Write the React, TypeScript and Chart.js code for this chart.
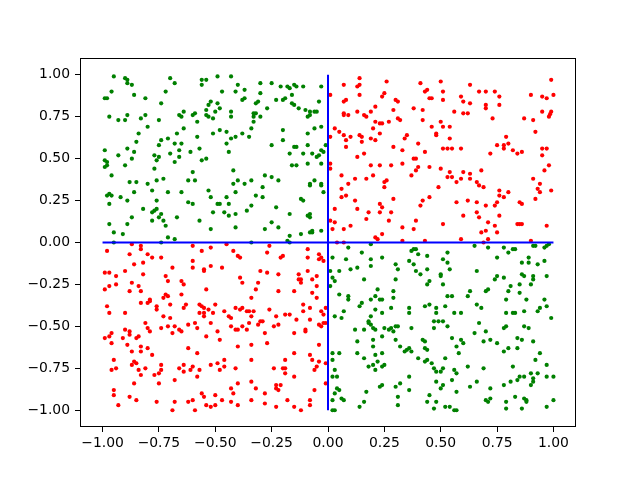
import React, { useEffect, useRef } from "react";
import { Chart, registerables } from "chart.js";

Chart.register(...registerables);

// Points with x*y > 0 (red) and x*y < 0 (green)
const redPoints: [number, number][] = [
  [0.14,0.98],[0.26,0.96],[0.07,0.94],[0.14,0.94],[0.13,0.93],[0.14,0.88],[0.01,0.88],[0.41,0.95],[0.50,0.96],[0.44,0.91],[0.43,0.90],[0.51,0.90],[0.25,0.89],[0.24,0.87],[0.45,0.86],[0.46,0.86],[0.51,0.85],[0.07,0.84],[0.08,0.85],[0.30,0.85],[0.31,0.84],[0.07,0.77],[0.07,0.76],[0.09,0.76],[0.13,0.78],[0.16,0.76],[0.17,0.75],[0.19,0.78],[0.21,0.81],[0.29,0.79],[0.38,0.80],[0.42,0.79],[0.21,0.72],[0.23,0.71],[0.24,0.71],[0.27,0.72],[0.31,0.74],[0.32,0.73],[0.42,0.73],[0.50,0.72],[0.51,0.69],[0.46,0.69],[0.03,0.68],[0.05,0.66],[0.20,0.68],[0.23,0.65],[0.48,0.65],[0.48,0.64],[0.07,0.64],[0.10,0.63],[0.14,0.64],[0.15,0.63],[0.01,0.63],[0.08,0.61],[0.15,0.60],[0.19,0.62],[0.21,0.61],[0.34,0.62],[0.35,0.64],[0.40,0.59],[0.08,0.57],[0.29,0.57],[0.51,0.56],[0.33,0.55],[0.43,0.54],[0.16,0.53],[0.13,0.51],[0.38,0.50],[0.39,0.50],[0.01,0.47],[0.01,0.44],[0.19,0.46],[0.23,0.46],[0.28,0.46],[0.33,0.47],[0.40,0.45],[0.39,0.43],[0.45,0.45],[0.50,0.44],[0.06,0.40],[0.12,0.38],[0.17,0.38],[0.20,0.40],[0.37,0.40],[0.26,0.37],[0.25,0.36],[0.09,0.35],
  [0.99,0.97],[0.63,0.94],[0.67,0.90],[0.70,0.90],[0.74,0.90],[0.59,0.87],[0.60,0.84],[0.63,0.83],[0.76,0.87],[0.76,0.82],[0.70,0.82],[0.70,0.80],[0.90,0.88],[0.95,0.87],[0.97,0.86],[1.00,0.88],[0.56,0.78],[0.60,0.77],[0.62,0.77],[0.73,0.74],[0.87,0.74],[0.91,0.73],[0.95,0.78],[0.98,0.75],[0.985,0.765],[0.99,0.78],[0.54,0.69],[0.92,0.66],[0.79,0.63],[0.54,0.62],[0.75,0.58],[0.78,0.58],[0.78,0.56],[0.80,0.59],[0.82,0.55],[0.84,0.53],[0.86,0.54],[0.53,0.56],[0.55,0.56],[0.59,0.56],[0.95,0.56],[0.97,0.56],[0.95,0.52],[0.72,0.53],[0.98,0.46],[0.96,0.43],[0.68,0.43],[0.60,0.42],[0.63,0.41],[0.63,0.38],[0.59,0.38],[0.54,0.42],[0.53,0.39],[0.55,0.39],[0.57,0.36],[0.66,0.36],[0.91,0.38],[0.94,0.35],
  [-0.87,-0.01],[-0.83,-0.02],[-0.83,-0.04],[-0.60,-0.02],[-0.52,-0.03],[-0.98,-0.05],[-0.88,-0.07],[-0.80,-0.07],[-0.78,-0.09],[-0.74,-0.09],[-0.56,-0.05],[-0.86,-0.13],[-0.82,-0.12],[-0.60,-0.11],[-0.69,-0.15],[-0.60,-0.15],[-0.52,-0.14],[-0.90,-0.17],[-0.82,-0.19],[-0.99,-0.18],[-0.97,-0.18],[-0.94,-0.20],[-0.72,-0.20],[-0.55,-0.16],[-0.55,-0.17],[-0.94,-0.25],[-0.97,-0.26],[-0.87,-0.24],[-0.84,-0.26],[-0.71,-0.23],[-0.65,-0.23],[-0.64,-0.25],[-0.99,-0.28],[-0.88,-0.29],[-0.83,-0.29],[-0.54,-0.28],[-0.72,-0.31],[-0.71,-0.32],[-0.73,-0.33],[-0.65,-0.31],[-0.79,-0.34],
  [-0.45,-0.01],[-0.26,-0.02],[-0.42,-0.05],[-0.40,-0.08],[-0.39,-0.09],[-0.27,-0.06],[-0.20,-0.08],[-0.21,-0.09],[-0.09,-0.04],[-0.09,-0.09],[-0.04,-0.07],[-0.03,-0.09],[-0.04,-0.10],[-0.02,-0.11],[-0.47,-0.15],[-0.30,-0.17],[-0.27,-0.18],[-0.22,-0.19],[-0.13,-0.19],[-0.09,-0.17],[-0.05,-0.20],[-0.13,-0.22],[-0.12,-0.22],[-0.12,-0.24],[-0.07,-0.22],[-0.38,-0.24],[-0.31,-0.24],[-0.39,-0.21],[-0.32,-0.28],[-0.22,-0.29],[-0.15,-0.29],[-0.07,-0.30],[-0.05,-0.26],[-0.34,-0.33],[-0.05,-0.33],
  [0.06,0.32],[0.06,0.27],[0.08,0.28],[0.12,0.25],[0.25,0.33],[0.03,0.20],[0.13,0.20],[0.23,0.23],[0.24,0.21],[0.29,0.26],[0.42,0.25],[0.45,0.27],[0.49,0.33],[0.41,0.22],[0.18,0.18],[0.23,0.18],[0.28,0.18],[0.17,0.14],[0.01,0.13],[0.03,0.12],[0.10,0.10],[0.02,0.08],[0.07,0.08],[0.27,0.13],[0.33,0.09],[0.38,0.08],[0.39,0.13],[0.51,0.11],[0.21,0.03],[0.22,0.02],[0.24,0.05],[0.04,0.00],[0.07,0.00],[0.33,0.01],[0.43,0.01],
  [0.67,0.34],[0.69,0.33],[0.76,0.31],[0.76,0.28],[0.78,0.27],[0.80,0.30],[0.93,0.32],[0.94,0.30],[0.99,0.31],[0.57,0.24],[0.62,0.25],[0.66,0.24],[0.70,0.22],[0.74,0.22],[0.75,0.24],[0.85,0.24],[0.86,0.23],[0.92,0.26],[0.60,0.16],[0.66,0.18],[0.67,0.15],[0.76,0.16],[0.71,0.12],[0.74,0.10],[0.70,0.07],[0.68,0.06],[0.75,0.06],[0.84,0.11],[0.85,0.11],[0.86,0.11],[0.97,0.10],[0.71,0.02],[0.59,0.02],[0.69,0.00],[0.90,0.01],
  [-0.98,-0.38],[-0.97,-0.42],[-0.83,-0.36],[-0.80,-0.36],[-0.79,-0.35],[-0.76,-0.38],[-0.76,-0.40],[-0.70,-0.37],[-0.90,-0.42],[-0.63,-0.37],[-0.64,-0.39],[-0.57,-0.37],[-0.56,-0.38],[-0.55,-0.39],[-0.53,-0.40],[-0.57,-0.42],[-0.55,-0.42],[-0.55,-0.44],[-0.51,-0.42],[-0.73,-0.44],[-0.70,-0.45],[-0.81,-0.48],[-0.80,-0.51],[-0.79,-0.53],[-0.74,-0.51],[-0.71,-0.50],[-0.68,-0.50],[-0.66,-0.52],[-0.65,-0.53],[-0.69,-0.54],[-0.62,-0.49],[-0.59,-0.48],[-0.58,-0.51],[-0.52,-0.48],[-0.54,-0.56],[-0.96,-0.54],[-0.97,-0.56],[-0.99,-0.57],[-0.96,-0.60],[-0.90,-0.52],[-0.88,-0.53],[-0.88,-0.55],[-0.91,-0.57],[-0.85,-0.57],[-0.84,-0.56],[-0.89,-0.61],[-0.87,-0.65],[-0.83,-0.62],[-0.83,-0.65],[-0.80,-0.63],[-0.78,-0.67],[-0.62,-0.63],[-0.58,-0.66],[-0.95,-0.70],[-0.96,-0.76],[-0.94,-0.75],[-0.87,-0.73],[-0.86,-0.71],[-0.85,-0.72],[-0.84,-0.76],[-0.83,-0.79],[-0.81,-0.75],[-0.77,-0.79],[-0.74,-0.73],[-0.74,-0.76],[-0.75,-0.78],[-0.66,-0.75],[-0.64,-0.73],[-0.64,-0.77],[-0.61,-0.76],[-0.60,-0.74],[-0.57,-0.76],[-0.58,-0.80],[-0.52,-0.73],[-0.68,-0.82],[-0.86,-0.84],[-0.75,-0.84],[-0.95,-0.88],[-0.95,-0.91],[-0.88,-0.92],[-0.85,-0.94],[-0.93,-0.97],[-0.76,-0.95],[-0.68,-0.95],[-0.69,-1.00],[-0.62,-0.95],[-0.60,-0.94],[-0.56,-0.90],[-0.55,-0.92],[-0.54,-0.97],[-0.52,-0.98],[-0.59,-1.00],
  [-0.50,-0.37],[-0.46,-0.41],[-0.44,-0.44],[-0.43,-0.45],[-0.41,-0.39],[-0.39,-0.40],[-0.38,-0.39],[-0.36,-0.41],[-0.35,-0.41],[-0.34,-0.44],[-0.33,-0.41],[-0.26,-0.40],[-0.23,-0.44],[-0.19,-0.43],[-0.17,-0.43],[-0.14,-0.46],[-0.11,-0.37],[-0.11,-0.41],[-0.08,-0.39],[-0.03,-0.41],[-0.02,-0.43],[-0.01,-0.39],[-0.43,-0.50],[-0.41,-0.52],[-0.40,-0.52],[-0.38,-0.50],[-0.36,-0.52],[-0.35,-0.48],[-0.31,-0.49],[-0.30,-0.47],[-0.29,-0.47],[-0.28,-0.54],[-0.24,-0.50],[-0.22,-0.49],[-0.15,-0.54],[-0.10,-0.52],[-0.10,-0.53],[-0.08,-0.46],[-0.04,-0.49],[-0.03,-0.50],[-0.02,-0.48],[-0.01,-0.48],[-0.49,-0.53],[-0.48,-0.58],[-0.40,-0.62],[-0.34,-0.61],[-0.27,-0.60],[-0.15,-0.66],[-0.08,-0.67],[-0.04,-0.61],[-0.49,-0.72],[-0.46,-0.70],[-0.46,-0.74],[-0.48,-0.76],[-0.41,-0.75],[-0.34,-0.70],[-0.24,-0.75],[-0.20,-0.75],[-0.19,-0.75],[-0.19,-0.78],[-0.19,-0.70],[-0.15,-0.80],[-0.07,-0.70],[-0.05,-0.74],[-0.06,-0.76],[-0.04,-0.71],[-0.01,-0.72],[-0.40,-0.84],[-0.43,-0.87],[-0.42,-0.90],[-0.34,-0.83],[-0.32,-0.87],[-0.23,-0.85],[-0.21,-0.85],[-0.23,-0.87],[-0.22,-0.88],[-0.06,-0.88],[-0.01,-0.84],[-0.50,-0.91],[-0.47,-0.94],[-0.43,-0.95],[-0.40,-0.97],[-0.34,-0.94],[-0.28,-0.90],[-0.28,-0.96],[-0.18,-0.94],[-0.08,-0.94],[-0.08,-0.97],[-0.50,-0.97],[-0.23,-0.98],[-0.15,-0.98],[-0.12,-1.00],
];

const greenPoints: [number, number][] = [
  [-0.95,0.99],[-0.90,0.98],[-0.89,0.97],[-0.89,0.95],[-0.87,0.94],[-0.70,0.98],[-0.68,0.95],[-0.56,0.97],[-0.54,0.97],[-0.56,0.94],[-0.96,0.90],[-0.72,0.90],[-0.99,0.86],[-0.98,0.86],[-0.86,0.88],[-0.81,0.86],[-0.74,0.83],[-0.52,0.84],[-0.53,0.82],[-0.54,0.79],[-0.97,0.75],[-0.93,0.73],[-0.90,0.73],[-0.89,0.76],[-0.83,0.74],[-0.81,0.76],[-0.75,0.73],[-0.66,0.76],[-0.65,0.75],[-0.64,0.78],[-0.60,0.76],[-0.59,0.77],[-0.54,0.76],[-0.53,0.75],[-0.51,0.74],[-0.58,0.72],[-0.80,0.69],[-0.64,0.68],[-0.84,0.65],[-0.67,0.65],[-0.74,0.61],[-0.71,0.62],[-0.58,0.63],[-0.51,0.65],[-0.85,0.60],[-0.75,0.58],[-0.68,0.59],[-0.65,0.59],[-0.99,0.55],[-0.89,0.56],[-0.86,0.54],[-0.66,0.55],[-0.57,0.56],[-0.93,0.52],[-0.87,0.50],[-0.77,0.52],[-0.75,0.51],[-0.70,0.53],[-0.66,0.51],[-0.61,0.54],[-0.99,0.49],[-0.98,0.48],[-0.76,0.49],[-0.68,0.48],[-0.56,0.49],[-0.54,0.50],[-0.99,0.45],[-0.98,0.46],[-0.90,0.46],[-0.77,0.44],[-0.96,0.40],[-0.60,0.42],[-0.73,0.38],[-0.88,0.36],[-0.85,0.36],[-0.76,0.37],[-0.80,0.35],[-0.62,0.37],[-0.59,0.37],
  [-0.49,0.99],[-0.43,0.99],[-0.40,0.94],[-0.41,0.90],[-0.37,0.91],[-0.47,0.90],[-0.30,0.95],[-0.25,0.95],[-0.30,0.89],[-0.21,0.93],[-0.18,0.93],[-0.17,0.92],[-0.15,0.94],[-0.14,0.93],[-0.11,0.93],[-0.03,0.93],[-0.16,0.88],[-0.37,0.86],[-0.38,0.85],[-0.31,0.84],[-0.32,0.83],[-0.23,0.85],[-0.20,0.85],[-0.19,0.86],[-0.04,0.84],[-0.49,0.83],[-0.48,0.80],[-0.50,0.78],[-0.43,0.78],[-0.43,0.75],[-0.33,0.77],[-0.32,0.77],[-0.33,0.75],[-0.30,0.75],[-0.27,0.80],[-0.16,0.83],[-0.15,0.82],[-0.13,0.80],[-0.10,0.79],[-0.08,0.78],[-0.06,0.78],[-0.05,0.78],[-0.08,0.76],[-0.09,0.75],[-0.33,0.72],[-0.34,0.68],[-0.48,0.67],[-0.45,0.66],[-0.41,0.63],[-0.38,0.65],[-0.35,0.63],[-0.43,0.62],[-0.45,0.59],[-0.20,0.67],[-0.20,0.61],[-0.06,0.68],[-0.03,0.69],[-0.09,0.65],[-0.25,0.58],[-0.15,0.57],[-0.14,0.57],[-0.09,0.58],[-0.01,0.58],[-0.44,0.54],[-0.17,0.53],[-0.11,0.53],[-0.07,0.53],[-0.03,0.55],[-0.02,0.54],[-0.04,0.52],[-0.05,0.51],[-0.16,0.46],[-0.14,0.46],[-0.09,0.47],[-0.03,0.47],[-0.42,0.43],[-0.28,0.40],[-0.25,0.39],[-0.22,0.37],[-0.40,0.37],[-0.34,0.37],[-0.06,0.37],[-0.42,0.35],[-0.37,0.35],[-0.08,0.35],[-0.03,0.35],
  [-0.97,0.29],[-0.98,0.28],[-0.96,0.28],[-0.92,0.27],[-0.89,0.25],[-0.86,0.30],[-0.78,0.31],[-0.71,0.30],[-0.65,0.30],[-0.76,0.25],[-0.62,0.24],[-0.60,0.23],[-0.53,0.31],[-0.52,0.27],[-0.97,0.23],[-0.82,0.20],[-0.78,0.18],[-0.77,0.19],[-0.76,0.20],[-0.74,0.17],[-0.75,0.15],[-0.78,0.13],[-0.73,0.13],[-0.72,0.10],[-0.87,0.15],[-0.89,0.11],[-0.97,0.11],[-0.95,0.06],[-0.91,0.05],[-0.67,0.15],[-0.57,0.13],[-0.51,0.18],[-0.52,0.08],[-0.71,0.03],[-0.68,0.02],[-0.95,0.00],[-0.74,0.00],
  [-0.49,0.23],[-0.48,0.23],[-0.45,0.27],[-0.44,0.23],[-0.41,0.30],[-0.29,0.33],[-0.32,0.28],[-0.29,0.27],[-0.46,0.18],[-0.44,0.16],[-0.41,0.17],[-0.36,0.19],[-0.34,0.22],[-0.23,0.21],[-0.17,0.17],[-0.12,0.26],[-0.11,0.25],[-0.08,0.34],[-0.03,0.34],[-0.02,0.30],[-0.09,0.16],[-0.08,0.15],[-0.08,0.17],[-0.25,0.12],[-0.22,0.09],[-0.28,0.08],[-0.41,0.09],[-0.17,0.04],[-0.12,0.05],[-0.08,0.06],[-0.07,0.07],[-0.07,0.06],[-0.03,0.07],[-0.18,0.01],[-0.17,0.00],[-0.34,0.00],
  [0.09,-0.03],[0.19,-0.01],[0.02,-0.09],[0.08,-0.10],[0.15,-0.06],[0.19,-0.10],[0.24,-0.09],[0.19,-0.14],[0.37,-0.05],[0.38,-0.04],[0.39,-0.04],[0.40,-0.07],[0.44,-0.08],[0.51,-0.10],[0.36,-0.11],[0.38,-0.13],[0.30,-0.13],[0.31,-0.16],[0.01,-0.17],[0.05,-0.17],[0.10,-0.16],[0.13,-0.15],[0.44,-0.16],[0.39,-0.17],[0.41,-0.19],[0.50,-0.19],[0.50,-0.20],[0.02,-0.21],[0.03,-0.23],[0.16,-0.22],[0.30,-0.22],[0.01,-0.26],[0.44,-0.25],[0.45,-0.23],[0.51,-0.25],[0.22,-0.28],[0.29,-0.29],[0.05,-0.31],[0.09,-0.32],[0.09,-0.34],[0.19,-0.34],[0.21,-0.32],[0.23,-0.34],[0.24,-0.34],[0.29,-0.33],
  [0.65,-0.02],[0.71,-0.03],[0.78,-0.03],[0.82,-0.04],[0.83,-0.04],[0.80,-0.06],[0.91,-0.02],[0.92,-0.02],[0.96,-0.03],[0.97,-0.02],[0.98,-0.01],[0.53,-0.06],[0.53,-0.12],[0.75,-0.09],[0.89,-0.09],[0.86,-0.12],[0.89,-0.12],[0.93,-0.13],[0.96,-0.11],[0.54,-0.16],[0.66,-0.17],[0.86,-0.19],[0.87,-0.20],[0.91,-0.20],[0.91,-0.22],[0.97,-0.20],[0.75,-0.20],[0.74,-0.22],[0.78,-0.21],[0.70,-0.29],[0.71,-0.28],[0.63,-0.29],[0.62,-0.32],[0.53,-0.32],[0.55,-0.32],[0.81,-0.26],[0.85,-0.25],[0.90,-0.25],[0.80,-0.29],[0.85,-0.30],[0.79,-0.34],[0.88,-0.34],[0.96,-0.34],
  [0.15,-0.36],[0.14,-0.38],[0.03,-0.44],[0.06,-0.45],[0.07,-0.41],[0.21,-0.40],[0.24,-0.42],[0.28,-0.39],[0.36,-0.39],[0.36,-0.42],[0.43,-0.38],[0.45,-0.37],[0.48,-0.39],[0.48,-0.42],[0.47,-0.47],[0.49,-0.47],[0.51,-0.47],[0.47,-0.51],[0.18,-0.47],[0.18,-0.48],[0.19,-0.44],[0.19,-0.49],[0.20,-0.51],[0.21,-0.52],[0.16,-0.52],[0.12,-0.52],[0.24,-0.56],[0.25,-0.51],[0.27,-0.52],[0.28,-0.51],[0.30,-0.50],[0.31,-0.50],[0.29,-0.53],[0.37,-0.51],[0.20,-0.58],[0.20,-0.62],[0.13,-0.59],[0.30,-0.58],[0.32,-0.62],[0.34,-0.65],[0.35,-0.64],[0.36,-0.63],[0.37,-0.65],[0.42,-0.58],[0.43,-0.59],[0.43,-0.63],[0.44,-0.64],[0.02,-0.66],[0.05,-0.66],[0.13,-0.66],[0.16,-0.69],[0.21,-0.67],[0.24,-0.66],[0.02,-0.70],[0.18,-0.74],[0.20,-0.73],[0.22,-0.71],[0.24,-0.74],[0.25,-0.73],[0.21,-0.76],[0.40,-0.69],[0.43,-0.71],[0.44,-0.70],[0.46,-0.72],[0.47,-0.75],[0.48,-0.77],[0.50,-0.77],[0.48,-0.83],[0.51,-0.85],[0.50,-0.87],[0.51,-0.75],[0.03,-0.76],[0.02,-0.80],[0.04,-0.80],[0.36,-0.80],[0.32,-0.84],[0.30,-0.86],[0.24,-0.85],[0.23,-0.86],[0.17,-0.89],[0.36,-0.88],[0.03,-0.90],[0.04,-0.87],[0.05,-0.88],[0.06,-0.93],[0.07,-0.94],[0.02,-0.94],[0.02,-1.00],[0.03,-1.00],[0.14,-0.98],[0.16,-0.95],[0.31,-0.92],[0.31,-0.97],[0.45,-0.91],[0.44,-0.95],[0.48,-0.95],[0.47,-0.99],
  [0.52,-0.38],[0.56,-0.42],[0.59,-0.42],[0.66,-0.37],[0.68,-0.39],[0.97,-0.38],[0.94,-0.39],[0.93,-0.41],[0.99,-0.45],[0.87,-0.41],[0.79,-0.42],[0.82,-0.42],[0.83,-0.42],[0.53,-0.50],[0.67,-0.48],[0.65,-0.54],[0.70,-0.53],[0.78,-0.51],[0.79,-0.50],[0.87,-0.50],[0.89,-0.51],[0.55,-0.57],[0.59,-0.58],[0.57,-0.62],[0.60,-0.60],[0.58,-0.66],[0.69,-0.59],[0.72,-0.58],[0.75,-0.60],[0.84,-0.57],[0.86,-0.58],[0.91,-0.59],[0.80,-0.63],[0.84,-0.63],[0.78,-0.65],[0.94,-0.66],[0.92,-0.70],[0.52,-0.69],[0.62,-0.74],[0.69,-0.75],[0.56,-0.76],[0.57,-0.78],[0.55,-0.82],[0.66,-0.83],[0.63,-0.86],[0.57,-0.89],[0.72,-0.87],[0.78,-0.85],[0.81,-0.83],[0.82,-0.74],[0.84,-0.82],[0.85,-0.80],[0.87,-0.80],[0.90,-0.78],[0.93,-0.78],[0.91,-0.81],[0.91,-0.83],[0.90,-0.85],[0.97,-0.73],[0.97,-0.80],[1.00,-0.80],[0.83,-0.92],[0.87,-0.93],[0.88,-0.94],[0.88,-0.95],[0.72,-0.93],[0.70,-0.94],[0.71,-0.95],[0.79,-0.95],[0.79,-0.99],[0.86,-0.99],[1.00,-0.94],[0.97,-0.98],[0.52,-0.98],[0.54,-0.98],[0.56,-1.00],[0.57,-1.00],
];

// Blue cross lines
const hLineX = [-1, 1];
const hLineY = [0, 0];
const vLineX = [0, 0];
const vLineY = [-1, 1];

// Axis ticks
const xTicks = [-1, -0.75, -0.5, -0.25, 0, 0.25, 0.5, 0.75, 1];
const yTicks = [-1, -0.75, -0.5, -0.25, 0, 0.25, 0.5, 0.75, 1];
const axisMin = -1.1;
const axisMax = 1.1;

const fmt = (v: number) => {
  const s = Math.abs(v).toFixed(2);
  return v < -1e-9 ? "\u2212" + s : s;
};

const framePlugin = {
  id: "frame",
  afterDatasetsDraw(chart: any) {
    const { ctx, chartArea } = chart;
    const l = Math.round(chartArea.left) + 0.5;
    const t = Math.round(chartArea.top) + 0.5;
    const r = Math.round(chartArea.right) - 0.5;
    const b = Math.round(chartArea.bottom) - 0.5;
    ctx.save();
    ctx.strokeStyle = "#000";
    ctx.lineWidth = 1;
    ctx.strokeRect(l, t, r - l, b - t);
    ctx.restore();
  },
};

const tickFont = { family: "DejaVu Sans", size: 13.9 };

export default function App() {
  const ref = useRef<HTMLCanvasElement | null>(null);
  useEffect(() => {
    if (!ref.current) return;
    const chart = new Chart(ref.current, {
      type: "scatter",
      data: {
        datasets: [
          {
            data: hLineX.map((x, i) => ({ x, y: hLineY[i] })),
            showLine: true,
            borderColor: "#0000ff",
            borderWidth: 2,
            pointRadius: 0,
            order: 0,
          },
          {
            data: vLineX.map((x, i) => ({ x, y: vLineY[i] })),
            showLine: true,
            borderColor: "#0000ff",
            borderWidth: 2,
            pointRadius: 0,
            order: 0,
          },
          {
            data: redPoints.map(([x, y]) => ({ x, y })),
            backgroundColor: "#ff0000",
            borderWidth: 0,
            pointRadius: 2.1,
            order: 1,
          },
          {
            data: greenPoints.map(([x, y]) => ({ x, y })),
            backgroundColor: "#008000",
            borderWidth: 0,
            pointRadius: 2.1,
            order: 1,
          },
        ],
      },
      options: {
        animation: false,
        responsive: false,
        devicePixelRatio: 1,
        layout: { padding: { left: 0, top: 58, right: 64, bottom: 0 } },
        plugins: { legend: { display: false }, tooltip: { enabled: false } },
        scales: {
          x: {
            type: "linear",
            min: axisMin,
            max: axisMax,
            afterBuildTicks: (s: any) => {
              s.ticks = xTicks.map((v) => ({ value: v }));
            },
            afterFit: (s: any) => {
              s.height = 53;
            },
            grid: { drawOnChartArea: false, drawTicks: true, tickLength: 5, color: "#000", lineWidth: 1 },
            border: { display: false },
            ticks: {
              callback: (v: any) => fmt(Number(v)),
              color: "#000",
              font: tickFont,
              padding: 3,
              maxRotation: 0,
              autoSkip: false,
            },
          },
          y: {
            type: "linear",
            min: axisMin,
            max: axisMax,
            afterBuildTicks: (s: any) => {
              s.ticks = yTicks.map((v) => ({ value: v }));
            },
            afterFit: (s: any) => {
              s.width = 80;
            },
            grid: { drawOnChartArea: false, drawTicks: true, tickLength: 5, color: "#000", lineWidth: 1 },
            border: { display: false },
            ticks: {
              callback: (v: any) => fmt(Number(v)),
              color: "#000",
              font: tickFont,
              padding: 5,
              autoSkip: false,
            },
          },
        },
      },
      plugins: [framePlugin],
    });
    return () => chart.destroy();
  }, []);
  return (
    <div style={{ position: "fixed", left: 0, top: 0, width: 640, height: 480, background: "#fff" }}>
      <canvas ref={ref} width={640} height={480} style={{ display: "block" }} />
    </div>
  );
}
